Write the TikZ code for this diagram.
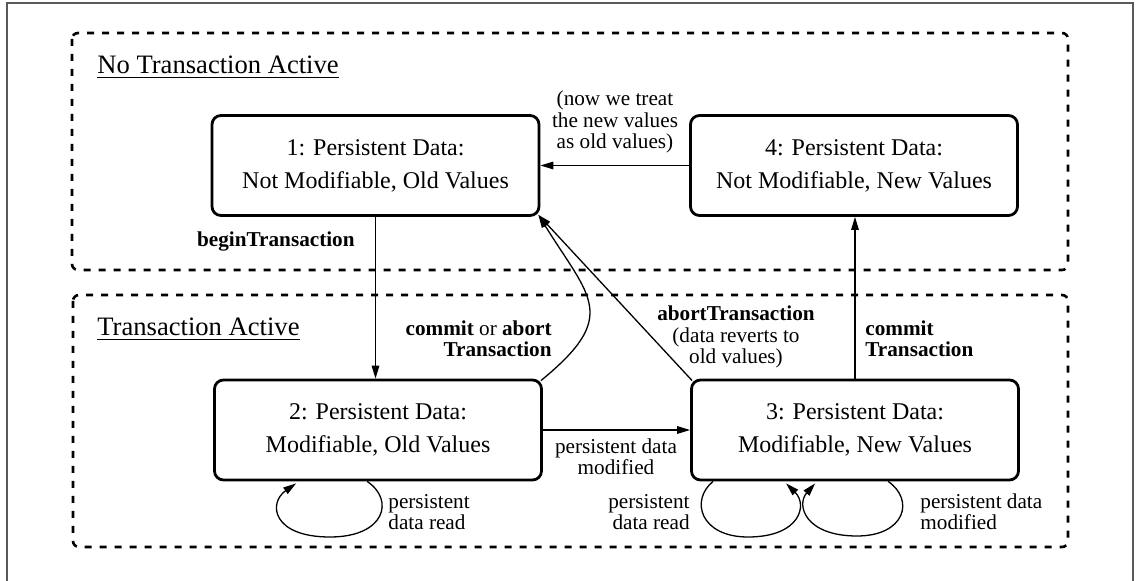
\documentclass[tikz,border=0pt]{standalone}
\usepackage{fontspec}
\setmainfont{Liberation Serif}
\usetikzlibrary{arrows.meta,calc}
\definecolor{framegray}{HTML}{5A5A5A}
\begin{document}
\begin{tikzpicture}[x=0.5pt,y=-0.5pt,
  state/.style={draw,line width=1.4pt,rounded corners=4.5pt,minimum width=163.5pt,minimum height=50pt,align=center,inner sep=0pt,font=\fontsize{12}{16.5}\selectfont},
  region/.style={draw,line width=1.3pt,dash pattern=on 3.5pt off 4pt,rounded corners=3pt},
  conn/.style={draw,line width=0.65pt,-{Triangle[length=6.5pt,width=3.8pt]}},
  lbl/.style={inner sep=0pt,font=\fontsize{10.6}{10.75}\selectfont},
  ttl/.style={inner sep=0pt,anchor=base west,font=\fontsize{13.3}{16}\selectfont}]
\useasboundingbox (0,0) rectangle (1136,581);
\fill[white] (0,0) rectangle (1136,581);
\draw[framegray,line width=1pt] (7,3) rectangle (1133,600);

% regions
\draw[region] (72,33) rectangle (1068,270);
\draw[region] (73,295) rectangle (1068,547);
\node[ttl] (t1) at (97,74) {\underline{No Transaction Active}};
\node[ttl] (t2) at (97,336) {\underline{Transaction Active}};

% states
\node[state] (n1) at (375.5,165.5) {1: Persistent Data:\\Not Modifiable, Old Values};
\node[state] (n4) at (854,165.5) {4: Persistent Data:\\Not Modifiable, New Values};
\node[state] (n2) at (378,430) {2: Persistent Data:\\Modifiable, Old Values};
\node[state] (n3) at (855,430) {3: Persistent Data:\\Modifiable, New Values};

% connectors
\draw[conn] (n1.south) -- (n1.south |- n2.north);
\draw[conn] (n4.west) -- (n1.east);
\draw[conn] (n2.east) -- (n3.west);
\draw[conn] (n3.north) -- (n3.north |- n4.south);
\draw[conn] ($(n3.north west)+(2,2)$) -- ($(n1.south east)+(-2,-2)$);
\draw[conn] ($(n2.north east)+(-2,2)$) .. controls (620,316) and (590,298) .. ($(n1.south east)+(-2,-2)$);

% self loops
\draw[conn] ($(n2.south west)+(154,0)$) .. controls (395,500) and (385,537) .. (330,537)
   .. controls (272,537) and (268,503) .. ($(n2.south west)+(83,2)$);
\draw[conn] ($(n3.south west)+(23,0)$) .. controls (690,500) and (700,537) .. (748,537)
   .. controls (800,537) and (808,505) .. ($(n3.south west)+(96,2)$);
\draw[conn] ($(n3.south west)+(198,0)$) .. controls (915,500) and (905,536) .. (857,536)
   .. controls (805,536) and (796,505) .. ($(n3.south west)+(125,2)$);

% labels
\node[lbl,anchor=east,font=\fontsize{10.6}{10.75}\selectfont\bfseries] (l1) at (355,241) {beginTransaction};
\node[lbl,align=center] (l2) at (615,122) {(now we treat\\the new values\\as old values)};
\node[lbl,align=right,anchor=east] (l3) at (552,339) {\textbf{commit} or \textbf{abort}\\\textbf{Transaction}};
\node[lbl,align=center] (l4) at (736,337) {\textbf{abortTransaction}\\(data reverts to\\old values)};
\node[lbl,align=left,anchor=west,font=\fontsize{10.6}{10.75}\selectfont\bfseries] (l5) at (865,339) {commit\\Transaction};
\node[lbl,align=center] (l6) at (616,457) {persistent data\\modified};
\node[lbl,align=left,anchor=west] (l7) at (388,512) {persistent\\data read};
\node[lbl,align=right,anchor=east] (l8) at (690,512) {persistent\\data read};
\node[lbl,align=left,anchor=west] (l9) at (920,512) {persistent data\\modified};
\end{tikzpicture}
\end{document}
